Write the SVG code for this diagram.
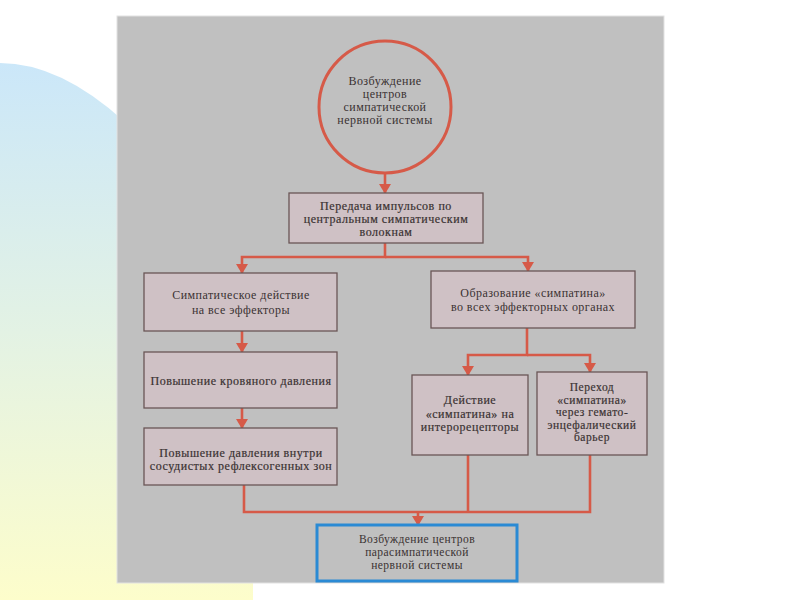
<svg xmlns="http://www.w3.org/2000/svg" width="800" height="600" viewBox="0 0 800 600">
<defs>
<linearGradient id="bgGrad" x1="0" y1="63" x2="0" y2="600" gradientUnits="userSpaceOnUse">
<stop offset="0" stop-color="#cbe7f9"/>
<stop offset="0.5" stop-color="#e3f2e4"/>
<stop offset="1" stop-color="#fdfdcb"/>
</linearGradient>
<marker id="arr" viewBox="0 0 10 12" refX="9" refY="6" markerWidth="10" markerHeight="12" markerUnits="userSpaceOnUse" orient="auto">
<path d="M0,0 L10,6 L0,12 Z" fill="#d65a48"/>
</marker>
<style>
.box{fill:#cfc1c5;stroke:#6a5656;stroke-width:1.3}
.con{fill:none;stroke:#d65a48;stroke-width:2.6}
.t{font-family:"Liberation Serif","DejaVu Serif",serif;font-size:12px;fill:#3a3232;text-anchor:middle;letter-spacing:0.45px}
.b{letter-spacing:0.55px;stroke:#3a3232;stroke-width:0.2}
.s{font-size:11.5px}
</style>
</defs>
<rect width="800" height="600" fill="#ffffff"/>
<path d="M0,63 Q60,63 125,122 L253,300 L253,600 L0,600 Z" fill="url(#bgGrad)"/>
<rect x="117" y="16" width="547" height="567" fill="#c0c0c0" stroke="#e2e2e2" stroke-width="1"/>

<g id="connectors">
<line class="con" x1="385" y1="173" x2="385" y2="193" marker-end="url(#arr)"/>
<polyline class="con" points="385,243 385,257 242,257 242,273" marker-end="url(#arr)"/>
<polyline class="con" points="385,257 528,257 528,271" marker-end="url(#arr)"/>
<line class="con" x1="242" y1="331" x2="242" y2="352" marker-end="url(#arr)"/>
<line class="con" x1="242" y1="408" x2="242" y2="428" marker-end="url(#arr)"/>
<polyline class="con" points="527,328 527,355 468,355 468,375" marker-end="url(#arr)"/>
<polyline class="con" points="527,355 590,355 590,372" marker-end="url(#arr)"/>
<polyline class="con" points="244,485 244,512 590,512 590,455"/>
<line class="con" x1="468" y1="455" x2="468" y2="512"/>
<line class="con" x1="418" y1="512" x2="418" y2="525" marker-end="url(#arr)"/>
</g>

<g id="n1">
<circle cx="385" cy="107" r="66" fill="#c0c0c0" stroke="#d65a48" stroke-width="3"/>
<text class="t" x="385" y="85">Возбуждение</text>
<text class="t" x="385" y="98">центров</text>
<text class="t" x="385" y="111">симпатической</text>
<text class="t" x="385" y="124">нервной системы</text>
</g>

<g id="n2">
<rect class="box" x="289" y="193" width="194" height="50"/>
<text class="t b" x="386" y="210">Передача  импульсов по</text>
<text class="t b" x="386" y="223">центральным симпатическим</text>
<text class="t b" x="386" y="236">волокнам</text>
</g>

<g id="n3">
<rect class="box" x="144" y="273" width="193" height="58"/>
<text class="t" x="241" y="299">Симпатическое действие</text>
<text class="t" x="241" y="314">на все  эффекторы</text>
</g>

<g id="n4">
<rect class="box" x="144" y="352" width="193" height="56"/>
<text class="t b" x="241" y="385">Повышение кровяного давления</text>
</g>

<g id="n5">
<rect class="box" x="144" y="428" width="193" height="57"/>
<text class="t b" x="241" y="457">Повышение давления внутри</text>
<text class="t b" x="241" y="470">сосудистых рефлексогенных зон</text>
</g>

<g id="n6">
<rect class="box" x="431" y="271" width="204" height="57"/>
<text class="t" x="533" y="297">Образование «симпатина»</text>
<text class="t" x="533" y="311">во всех эффекторных органах</text>
</g>

<g id="n7">
<rect class="box" x="412" y="375" width="116" height="80"/>
<text class="t b" x="470" y="404">Действие</text>
<text class="t b" x="470" y="418">«симпатина» на</text>
<text class="t b" x="470" y="431">интерорецепторы</text>
</g>

<g id="n8">
<rect class="box" x="537" y="372" width="110" height="83"/>
<text class="t b s" x="592" y="391">Переход</text>
<text class="t b s" x="592" y="403.5">«симпатина»</text>
<text class="t b s" x="592" y="416">через гемато-</text>
<text class="t b s" x="592" y="428.5">энцефалический</text>
<text class="t b s" x="592" y="441">барьер</text>
</g>

<g id="n9">
<rect x="317" y="525" width="200" height="56" fill="#c0c0c0" stroke="#2a8ad4" stroke-width="3"/>
<text class="t s" x="417" y="543">Возбуждение центров</text>
<text class="t s" x="417" y="556">парасимпатической</text>
<text class="t s" x="417" y="569">нервной системы</text>
</g>
</svg>
